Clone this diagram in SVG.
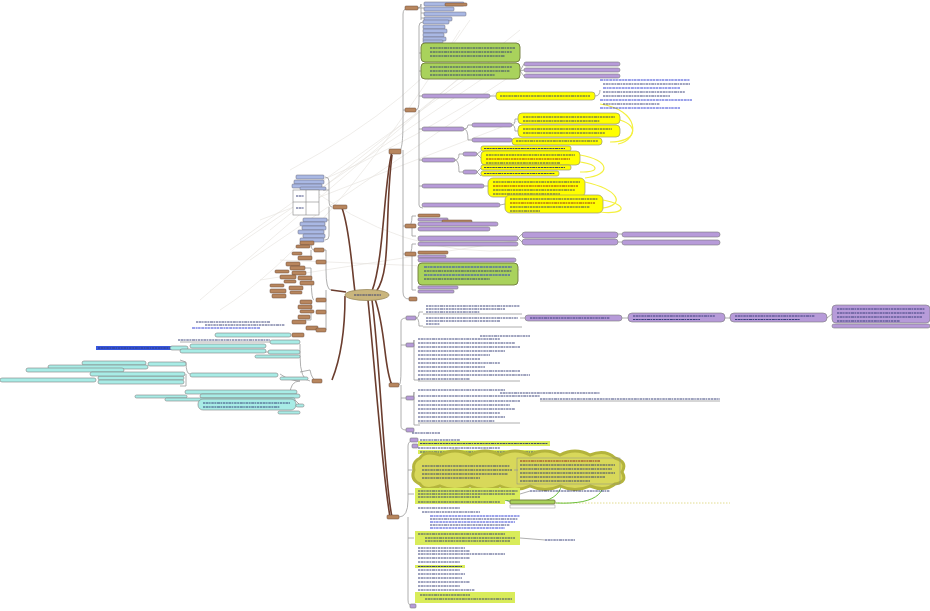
<svg xmlns="http://www.w3.org/2000/svg" width="930" height="611" viewBox="0 0 930 611">
<style>
.bg{fill:#fff}
.main{fill:none;stroke:#6b3d2e;stroke-width:1.6}
.sub{fill:none;stroke:#9a9a9a;stroke-width:0.8}
.rel{fill:none;stroke:#e4e0dc;stroke-width:0.6}
.t{stroke:#2a3470;stroke-width:.9;stroke-dasharray:2 .6 3 .5 1.5 .7 2.5 .6}
.tr{stroke:#8a1a1a;stroke-width:.9;stroke-dasharray:2 .6 3 .5 1.5 .7}
.tb{stroke:#2030d0;stroke-width:.9;stroke-dasharray:3 .6 2 .5 2.5 .7}
.tag{fill:#a9b8e4;stroke:#6a6a7a;stroke-width:.5}
.brn{fill:#b8865e;stroke:#6a4a3a;stroke-width:.5}
.pur{fill:#b79bd9;stroke:#7a7a7a;stroke-width:.6}
.yel{fill:#ffff00;stroke:#9a9a70;stroke-width:.7}
.grn{fill:#a9d25c;stroke:#6f7a3a;stroke-width:.9}
.lim{fill:#d9ec5a;stroke:none}
.cya{fill:#a8ece6;stroke:#808080;stroke-width:.6}
.wht{fill:#fff;stroke:#999;stroke-width:.5}
.yc{fill:none;stroke:#f4f040;stroke-width:1.2}
.gc{fill:none;stroke:#6cbf3c;stroke-width:1}
</style>
<rect class="bg" x="0" y="0" width="930" height="611"/>

<g id="relations">
<path class="rel" d="M240,240 L520,40"/><path class="rel" d="M230,250 L510,60"/><path class="rel" d="M250,260 L500,90"/>
<path class="rel" d="M260,220 L520,120"/><path class="rel" d="M270,230 L520,30"/><path class="rel" d="M200,300 L480,60"/>
<path class="rel" d="M280,260 L520,270"/><path class="rel" d="M260,280 L520,240"/><path class="rel" d="M300,190 Q420,140 520,70"/>
<path class="rel" d="M300,180 Q400,260 520,250"/><path class="rel" d="M220,310 Q330,240 460,30"/><path class="rel" d="M290,170 Q420,100 470,20"/>
</g>

<g id="connectors">
<path class="main" d="M372,291 C384,260 384,180 392,152"/>
<path class="main" d="M376,292 C392,270 384,220 392,155"/>
<path class="main" d="M375,299 C386,330 384,370 392,385"/>
<path class="main" d="M372,300 C380,360 384,480 392,517"/>
<path class="main" d="M368,300 C376,380 382,470 390,517"/>
<path class="main" d="M355,292 C352,270 350,230 342,208"/>
<path class="main" d="M346,292 L331,290"/>
<path class="main" d="M345,296 C345,330 340,360 332,380"/>
<path class="sub" d="M399,152 C402,150 403,140 403,120 L403,14 Q403,8 409,8"/>
<path class="sub" d="M403,150 L403,292 Q403,299 409,299"/>
<path class="sub" d="M403,110 L408,110"/><path class="sub" d="M403,226 L408,226"/><path class="sub" d="M403,254 L408,254"/>
<path class="sub" d="M418,8 Q421,8 421,4 L421,20"/><path class="sub" d="M418,8 L424,8"/><path class="sub" d="M421,13 L424,13"/><path class="sub" d="M421,18 L424,18"/>
<path class="sub" d="M416,110 Q419,110 419,100 L419,26 Q419,22 423,22"/><path class="sub" d="M419,110 L419,205 Q419,208 423,208"/>
<path class="sub" d="M419,53 L421,53"/><path class="sub" d="M419,71 L421,71"/><path class="sub" d="M419,96 L423,96"/><path class="sub" d="M419,129 L423,129"/><path class="sub" d="M419,160 L423,160"/><path class="sub" d="M419,186 L423,186"/>
<path class="sub" d="M490,96 L496,96"/><path class="sub" d="M595,96 Q600,96 600,90"/>
<path class="sub" d="M464,129 Q468,129 468,125 L472,125"/><path class="sub" d="M464,129 Q468,129 468,140 L472,140"/>
<path class="sub" d="M512,125 Q515,125 515,119 L518,119"/><path class="sub" d="M512,125 Q515,125 515,131 L518,131"/><path class="sub" d="M512,140 L518,141"/>
<path class="sub" d="M455,160 Q459,160 459,154 L463,154"/><path class="sub" d="M455,160 Q459,160 459,172 L463,172"/>
<path class="sub" d="M477,154 L481,151"/><path class="sub" d="M477,154 L481,158"/><path class="sub" d="M477,172 L481,168"/><path class="sub" d="M477,172 L481,176"/>
<path class="sub" d="M484,186 L488,186"/><path class="sub" d="M500,205 L505,204"/>
<path class="sub" d="M408,226 Q412,226 412,216 L416,216"/><path class="sub" d="M412,226 L412,236 L416,236"/>
<path class="sub" d="M408,254 Q412,254 412,244 L416,244"/><path class="sub" d="M412,254 L412,290 L416,290"/>
<path class="sub" d="M518,238 L522,234"/><path class="sub" d="M518,238 L522,242"/><path class="sub" d="M618,234 L622,234"/><path class="sub" d="M618,242 L622,242"/>
<path class="sub" d="M520,71 L524,64"/><path class="sub" d="M520,71 L524,70"/><path class="sub" d="M520,71 L524,76"/>
<path class="sub" d="M399,385 Q401,385 401,370 L401,322 Q401,318 406,318"/><path class="sub" d="M401,385 L401,426 Q401,430 406,430"/>
<path class="sub" d="M401,345 L406,345"/><path class="sub" d="M401,398 L406,398"/>
<path class="sub" d="M416,318 Q419,318 419,312 L423,312"/><path class="sub" d="M416,318 Q419,318 419,326 L423,326"/>
<path class="sub" d="M520,318 L525,318"/><path class="sub" d="M622,318 L628,318"/><path class="sub" d="M725,318 L730,318"/><path class="sub" d="M827,318 L832,314"/>
<path class="sub" d="M412,345 Q414,345 414,340 L414,380 L420,380"/><path class="sub" d="M412,398 Q414,398 414,392 L414,425 L420,425"/>
<path class="sub" d="M399,517 Q408,517 408,500 L408,446 Q408,441 413,441"/><path class="sub" d="M408,517 L408,600 Q408,606 413,606"/>
<path class="sub" d="M408,470 L413,470"/><path class="sub" d="M408,494 L414,494"/><path class="sub" d="M408,538 L414,538"/>
<path class="sub" d="M520,494 L530,491"/><path class="sub" d="M505,500 L510,502"/><path class="sub" d="M520,538 L545,540"/>
<path d="M555,503 L730,503" fill="none" stroke="#e2dc90" stroke-width="1" stroke-dasharray="1.5 1.5"/>
<path class="sub" d="M332,207 Q329,207 329,200 L329,181 Q329,177 325,177"/><path class="sub" d="M329,207 L329,236 Q329,240 325,240"/>
<path class="sub" d="M329,190 L323,190"/><path class="sub" d="M329,220 L325,220"/>
<path class="sub" d="M331,290 Q326,290 326,270 L326,250 L320,250"/><path class="sub" d="M326,290 L326,330 L320,330"/>
<path class="sub" d="M326,262 L316,262"/><path class="sub" d="M326,300 L316,300"/><path class="sub" d="M326,312 L316,312"/>
<path class="sub" d="M314,250 Q311,250 311,243 L305,243"/><path class="sub" d="M311,250 L311,258 L305,258"/>
<path class="sub" d="M314,300 Q311,300 311,268 L305,268"/><path class="sub" d="M311,300 L311,320 L305,320"/>
<path class="sub" d="M318,381 Q312,381 310,370 L300,372"/><path class="sub" d="M310,381 Q300,381 300,355 L300,344"/>
<path class="sub" d="M300,381 Q290,381 280,374"/><path class="sub" d="M300,381 Q290,381 290,395 L300,405"/>
<path class="sub" d="M190,374 Q186,374 186,362 L180,360"/><path class="sub" d="M186,374 L186,386 L180,386"/>
<path class="sub" d="M270,342 L180,342"/><path class="sub" d="M270,352 L265,352"/>
<path class="yc" d="M600,104 C640,110 640,140 618,144"/><path class="yc" d="M620,120 C640,126 636,142 610,142"/>
<path class="yc" d="M580,155 C610,160 612,175 585,178"/><path class="yc" d="M580,162 C600,165 600,172 580,172"/>
<path class="yc" d="M585,182 C620,190 625,205 603,208"/><path class="yc" d="M603,200 C630,205 625,215 600,212"/>
<path class="gc" d="M520,462 C560,450 610,455 610,470 C610,485 570,488 555,480"/><path class="gc" d="M505,500 C540,508 570,500 560,470"/>
<path class="gc" d="M556,503 C600,505 610,490 600,470"/>
</g>

<g id="centre">
<ellipse cx="367" cy="295" rx="22" ry="5.5" fill="#c9b57c" stroke="#9a8a60" stroke-width=".8"/>
<line class="t" x1="354" y1="295" x2="381" y2="295"/>
</g>

<g id="branch-a">
<rect class="brn" x="389" y="149" width="12" height="5" rx="1"/>
<rect class="brn" x="405" y="6" width="13" height="4" rx="1"/>
<rect class="tag" x="424" y="2" width="40" height="4" rx="1"/><rect class="brn" x="445" y="3" width="22" height="3" rx="1"/>
<rect class="tag" x="424" y="7" width="30" height="4" rx="1"/><rect class="tag" x="424" y="12" width="42" height="4" rx="1"/><rect class="tag" x="424" y="17" width="28" height="4" rx="1"/>
<rect class="brn" x="405" y="108" width="11" height="4" rx="1"/>
<rect class="tag" x="423" y="20" width="26" height="4" rx="1"/><rect class="tag" x="423" y="25" width="22" height="4" rx="1"/><rect class="tag" x="423" y="29" width="24" height="4" rx="1"/>
<rect class="tag" x="423" y="33" width="21" height="4" rx="1"/><rect class="tag" x="423" y="37" width="23" height="4" rx="1"/><rect class="tag" x="423" y="40" width="20" height="3" rx="1"/>
<rect class="grn" x="421" y="43" width="99" height="19" rx="4"/>
<line class="t" x1="430" y1="48" x2="515" y2="48"/><line class="t" x1="430" y1="52" x2="512" y2="52"/><line class="t" x1="430" y1="56" x2="505" y2="56"/>
<rect class="grn" x="421" y="63" width="99" height="16" rx="4"/>
<line class="t" x1="430" y1="67" x2="512" y2="67"/><line class="t" x1="430" y1="71" x2="510" y2="71"/><line class="t" x1="430" y1="75" x2="495" y2="75"/>
<rect class="pur" x="524" y="62" width="96" height="4" rx="2"/><rect class="pur" x="524" y="68" width="96" height="4" rx="2"/><rect class="pur" x="524" y="74" width="96" height="4" rx="2"/>
<rect class="pur" x="422" y="94" width="68" height="4" rx="2"/>
<rect class="yel" x="496" y="92" width="99" height="8" rx="3"/><line class="t" x1="500" y1="96" x2="590" y2="96"/>
<line class="tb" x1="600" y1="80" x2="690" y2="80"/><line class="t" x1="603" y1="84" x2="690" y2="84"/><line class="tb" x1="603" y1="88" x2="680" y2="88"/>
<line class="t" x1="603" y1="92" x2="685" y2="92"/><line class="t" x1="603" y1="96" x2="670" y2="96"/><line class="tb" x1="600" y1="100" x2="692" y2="100"/>
<line class="t" x1="603" y1="104" x2="660" y2="104"/><line class="tb" x1="600" y1="108" x2="680" y2="108"/>
<rect class="pur" x="422" y="127" width="42" height="4" rx="2"/>
<rect class="pur" x="472" y="123" width="40" height="4" rx="2"/><rect class="pur" x="472" y="138" width="40" height="4" rx="2"/>
<rect class="yel" x="518" y="113" width="102" height="11" rx="4"/><line class="t" x1="523" y1="117" x2="615" y2="117"/><line class="t" x1="523" y1="121" x2="600" y2="121"/>
<rect class="yel" x="518" y="125" width="102" height="12" rx="4"/><line class="t" x1="523" y1="129" x2="612" y2="129"/><line class="t" x1="523" y1="133" x2="605" y2="133"/>
<rect class="yel" x="512" y="138" width="90" height="7" rx="3"/><line class="t" x1="516" y1="141" x2="598" y2="141"/>
<rect class="pur" x="422" y="158" width="33" height="4" rx="2"/>
<rect class="pur" x="463" y="152" width="14" height="4" rx="2"/><rect class="pur" x="463" y="170" width="14" height="4" rx="2"/>
<rect class="yel" x="481" y="146" width="90" height="5" rx="2"/><line class="t" x1="484" y1="148.5" x2="565" y2="148.5"/>
<rect class="yel" x="481" y="151" width="99" height="14" rx="4"/><line class="t" x1="486" y1="155" x2="575" y2="155"/><line class="tr" x1="486" y1="159" x2="570" y2="159"/><line class="t" x1="486" y1="163" x2="560" y2="163"/>
<rect class="yel" x="481" y="165" width="90" height="5" rx="2"/><line class="t" x1="484" y1="167.5" x2="565" y2="167.5"/>
<rect class="yel" x="481" y="171" width="78" height="5" rx="2"/><line class="t" x1="484" y1="173.5" x2="555" y2="173.5"/>
<rect class="pur" x="422" y="184" width="62" height="4" rx="2"/>
<rect class="yel" x="488" y="178" width="97" height="19" rx="5"/><line class="t" x1="493" y1="182" x2="580" y2="182"/><line class="tr" x1="493" y1="186" x2="578" y2="186"/><line class="t" x1="493" y1="190" x2="575" y2="190"/><line class="t" x1="493" y1="194" x2="560" y2="194"/>
<rect class="pur" x="422" y="203" width="78" height="4" rx="2"/>
<rect class="yel" x="505" y="195" width="98" height="18" rx="5"/><line class="t" x1="510" y1="199" x2="598" y2="199"/><line class="tr" x1="510" y1="203" x2="595" y2="203"/><line class="t" x1="510" y1="207" x2="590" y2="207"/><line class="t" x1="510" y1="211" x2="540" y2="211"/>
<rect class="brn" x="405" y="224" width="11" height="4" rx="1"/>
<rect class="brn" x="418" y="214" width="22" height="3" rx="1"/><rect class="pur" x="418" y="218" width="30" height="3" rx="1"/><rect class="brn" x="442" y="220" width="30" height="3" rx="1"/>
<rect class="pur" x="418" y="222" width="80" height="4" rx="2"/><rect class="pur" x="418" y="227" width="72" height="4" rx="2"/>
<rect class="pur" x="418" y="236" width="100" height="5" rx="2"/><rect class="pur" x="418" y="242" width="100" height="4" rx="2"/>
<rect class="pur" x="522" y="232" width="96" height="6" rx="3"/><rect class="pur" x="522" y="239" width="96" height="6" rx="3"/>
<rect class="pur" x="622" y="232" width="98" height="5" rx="2.5"/><rect class="pur" x="622" y="240" width="98" height="5" rx="2.5"/>
<rect class="brn" x="405" y="252" width="11" height="4" rx="1"/>
<rect class="brn" x="418" y="251" width="30" height="3" rx="1"/><rect class="pur" x="418" y="255" width="28" height="3" rx="1"/>
<rect class="pur" x="418" y="258" width="98" height="4" rx="2"/>
<rect class="grn" x="418" y="263" width="100" height="22" rx="4"/>
<line class="tb" x1="424" y1="267" x2="512" y2="267"/><line class="t" x1="424" y1="271" x2="512" y2="271"/><line class="tb" x1="424" y1="275" x2="510" y2="275"/><line class="t" x1="424" y1="279" x2="490" y2="279"/>
<rect class="pur" x="418" y="286" width="40" height="3" rx="1"/><rect class="pur" x="418" y="290" width="36" height="3" rx="1"/>
<rect class="brn" x="409" y="297" width="8" height="4" rx="1"/>
</g>

<g id="branch-b">
<rect class="brn" x="389" y="383" width="10" height="4" rx="1"/>
<rect class="pur" x="406" y="316" width="10" height="4" rx="1"/>
<line class="t" x1="426" y1="306" x2="520" y2="306"/><line class="t" x1="426" y1="309" x2="505" y2="309"/><line class="t" x1="426" y1="312" x2="480" y2="312"/>
<line class="t" x1="426" y1="318" x2="518" y2="318"/><line class="t" x1="426" y1="321" x2="500" y2="321"/><line class="t" x1="426" y1="324" x2="440" y2="324"/>
<path class="sub" d="M423,314 L522,314 M423,327 L522,327"/>
<rect class="pur" x="525" y="315" width="97" height="6" rx="3"/><line class="t" x1="530" y1="318" x2="610" y2="318"/>
<rect class="pur" x="628" y="313" width="97" height="9" rx="4"/><line class="t" x1="633" y1="316" x2="715" y2="316"/><line class="t" x1="633" y1="319.5" x2="700" y2="319.5"/>
<rect class="pur" x="730" y="313" width="97" height="9" rx="4"/><line class="t" x1="735" y1="316" x2="815" y2="316"/><line class="t" x1="735" y1="319.5" x2="800" y2="319.5"/>
<rect class="pur" x="832" y="305" width="98" height="18" rx="4"/><line class="t" x1="837" y1="309" x2="925" y2="309"/><line class="t" x1="837" y1="313" x2="925" y2="313"/><line class="t" x1="837" y1="317" x2="922" y2="317"/><line class="t" x1="837" y1="321" x2="900" y2="321"/>
<rect class="pur" x="832" y="324" width="98" height="4" rx="2"/>
<rect class="pur" x="406" y="343" width="8" height="4" rx="1"/>
<line class="t" x1="418" y1="339" x2="500" y2="339"/><line class="t" x1="480" y1="336" x2="530" y2="336"/>
<line class="t" x1="418" y1="343" x2="515" y2="343"/><line class="t" x1="418" y1="347" x2="520" y2="347"/><line class="t" x1="418" y1="351" x2="505" y2="351"/>
<line class="t" x1="418" y1="355" x2="490" y2="355"/><line class="t" x1="418" y1="359" x2="480" y2="359"/><line class="t" x1="418" y1="363" x2="500" y2="363"/>
<line class="t" x1="418" y1="367" x2="485" y2="367"/><line class="t" x1="418" y1="371" x2="520" y2="371"/><line class="t" x1="418" y1="375" x2="530" y2="375"/>
<line class="t" x1="418" y1="379" x2="470" y2="379"/><path class="sub" d="M418,381 L520,381"/>
<rect class="pur" x="406" y="396" width="8" height="4" rx="1"/>
<line class="t" x1="418" y1="390" x2="505" y2="390"/><line class="t" x1="500" y1="393" x2="600" y2="393"/>
<line class="t" x1="418" y1="396" x2="540" y2="396"/><line class="t" x1="540" y1="399" x2="720" y2="399"/><path class="sub" d="M540,401 L720,401"/>
<line class="t" x1="418" y1="401" x2="520" y2="401"/><line class="t" x1="418" y1="405" x2="510" y2="405"/><line class="t" x1="418" y1="409" x2="515" y2="409"/>
<line class="t" x1="418" y1="413" x2="500" y2="413"/><line class="t" x1="418" y1="417" x2="505" y2="417"/><line class="t" x1="418" y1="421" x2="495" y2="421"/>
<path class="sub" d="M418,423 L520,423"/>
<rect class="pur" x="406" y="428" width="8" height="4" rx="1"/>
<line class="t" x1="412" y1="433" x2="440" y2="433"/>
</g>

<g id="branch-c">
<rect class="brn" x="387" y="515" width="12" height="4" rx="1"/>
<rect class="pur" x="410" y="438" width="8" height="4" rx="1"/><line class="t" x1="420" y1="440" x2="460" y2="440"/>
<rect class="pur" x="412" y="444" width="6" height="4" rx="1"/>
<rect class="lim" x="418" y="441" width="132" height="5"/><line class="t" x1="420" y1="443.5" x2="548" y2="443.5"/>
<line class="t" x1="418" y1="448" x2="500" y2="448"/><rect class="lim" x="418" y="450" width="130" height="4"/><line class="t" x1="420" y1="452" x2="545" y2="452"/>
<path d="M414,470 Q412,462 420,458 Q425,450 440,455 Q455,447 470,455 Q485,447 500,455 Q515,447 530,455 Q545,447 560,455 Q575,447 590,455 Q605,449 615,458 Q628,462 622,472 Q628,482 615,484 Q605,492 590,486 Q575,493 560,486 Q545,493 530,486 Q515,493 500,486 Q485,493 470,486 Q455,493 440,486 Q425,492 420,484 Q410,480 414,470 Z" fill="#d8d85a" stroke="#b4b43c" stroke-width="3"/>
<line class="t" x1="422" y1="466" x2="510" y2="466"/><line class="t" x1="422" y1="470" x2="512" y2="470"/><line class="t" x1="422" y1="474" x2="508" y2="474"/><line class="t" x1="422" y1="478" x2="480" y2="478"/>
<path class="sub" d="M514,470 L518,470"/>
<rect x="517" y="458" width="103" height="26" fill="none" stroke="#8a8a8a" stroke-width=".5"/>
<line class="tr" x1="520" y1="461" x2="600" y2="461"/><line class="t" x1="520" y1="465" x2="615" y2="465"/><line class="t" x1="520" y1="469" x2="612" y2="469"/>
<line class="t" x1="520" y1="473" x2="615" y2="473"/><line class="t" x1="520" y1="477" x2="605" y2="477"/><line class="t" x1="520" y1="481" x2="590" y2="481"/>
<rect class="lim" x="415" y="488" width="105" height="12"/>
<line class="t" x1="418" y1="491" x2="518" y2="491"/><line class="t" x1="418" y1="494" x2="515" y2="494"/><line class="t" x1="418" y1="497" x2="480" y2="497"/>
<line class="t" x1="530" y1="491" x2="610" y2="491"/>
<rect class="lim" x="415" y="500" width="90" height="4"/><line class="t" x1="418" y1="502" x2="500" y2="502"/>
<rect class="grn" x="510" y="500" width="45" height="4" rx="1"/><rect class="wht" x="510" y="505" width="45" height="3"/>
<line class="t" x1="418" y1="508" x2="460" y2="508"/><line class="t" x1="422" y1="512" x2="480" y2="512"/>
<line class="tb" x1="430" y1="516" x2="520" y2="516"/><line class="t" x1="430" y1="519" x2="518" y2="519"/><line class="tb" x1="430" y1="522" x2="515" y2="522"/>
<line class="t" x1="430" y1="525" x2="510" y2="525"/><line class="tb" x1="430" y1="528" x2="505" y2="528"/>
<rect class="lim" x="415" y="531" width="105" height="14"/>
<line class="t" x1="418" y1="534" x2="505" y2="534"/><line class="t" x1="425" y1="538" x2="515" y2="538"/><line class="t" x1="425" y1="541" x2="510" y2="541"/>
<line class="t" x1="545" y1="540" x2="575" y2="540"/>
<line class="t" x1="418" y1="548" x2="465" y2="548"/><line class="t" x1="418" y1="551" x2="470" y2="551"/><line class="t" x1="418" y1="554" x2="505" y2="554"/>
<line class="t" x1="418" y1="558" x2="470" y2="558"/><line class="t" x1="418" y1="562" x2="460" y2="562"/>
<rect class="lim" x="415" y="565" width="50" height="3"/><line class="t" x1="418" y1="566.5" x2="462" y2="566.5"/>
<line class="t" x1="418" y1="570" x2="460" y2="570"/><line class="t" x1="418" y1="574" x2="465" y2="574"/><line class="t" x1="418" y1="578" x2="462" y2="578"/>
<line class="t" x1="418" y1="582" x2="470" y2="582"/><line class="t" x1="418" y1="586" x2="460" y2="586"/><line class="t" x1="418" y1="590" x2="475" y2="590"/>
<rect class="lim" x="415" y="592" width="100" height="11"/><line class="t" x1="420" y1="595" x2="470" y2="595"/><line class="t" x1="425" y1="599" x2="512" y2="599"/>
<rect class="pur" x="410" y="604" width="6" height="4" rx="1"/>
</g>

<g id="branch-left">
<rect class="brn" x="333" y="205" width="14" height="4" rx="1"/>
<rect class="tag" x="296" y="175" width="28" height="4" rx="1"/><rect class="tag" x="294" y="180" width="30" height="4" rx="1"/>
<rect class="tag" x="292" y="184" width="30" height="4" rx="1"/><rect class="tag" x="300" y="187" width="26" height="3" rx="1"/>
<rect x="293" y="190" width="26" height="25" fill="#fff" stroke="#888" stroke-width=".6"/>
<path d="M306,190 L306,215 M293,202 L319,202" stroke="#888" stroke-width=".6"/>
<line class="t" x1="296" y1="196" x2="304" y2="196"/><line class="t" x1="296" y1="208" x2="304" y2="208"/>
<rect class="tag" x="303" y="218" width="24" height="4" rx="1"/><rect class="tag" x="300" y="222" width="25" height="4" rx="1"/>
<rect class="tag" x="302" y="226" width="24" height="4" rx="1"/><rect class="tag" x="298" y="230" width="26" height="4" rx="1"/>
<rect class="tag" x="303" y="234" width="22" height="4" rx="1"/><rect class="tag" x="300" y="238" width="24" height="4" rx="1"/>
<rect class="brn" x="314" y="248" width="10" height="4" rx="1"/>
<rect class="brn" x="300" y="241" width="14" height="4" rx="1"/><rect class="brn" x="296" y="245" width="14" height="3" rx="1"/>
<rect class="brn" x="298" y="256" width="14" height="4" rx="1"/><rect class="brn" x="292" y="252" width="10" height="3" rx="1"/>
<rect class="brn" x="316" y="260" width="10" height="4" rx="1"/>
<rect class="brn" x="286" y="262" width="14" height="4" rx="1"/><rect class="brn" x="290" y="266" width="15" height="4" rx="1"/>
<rect class="brn" x="275" y="270" width="14" height="3" rx="1"/><rect class="brn" x="292" y="271" width="14" height="4" rx="1"/>
<rect class="brn" x="280" y="275" width="16" height="4" rx="1"/><rect class="brn" x="298" y="276" width="14" height="4" rx="1"/>
<rect class="brn" x="284" y="280" width="12" height="3" rx="1"/><rect class="brn" x="300" y="281" width="14" height="4" rx="1"/>
<rect class="brn" x="270" y="284" width="14" height="3" rx="1"/><rect class="brn" x="289" y="286" width="14" height="4" rx="1"/>
<rect class="brn" x="270" y="289" width="16" height="4" rx="1"/><rect class="brn" x="290" y="291" width="12" height="3" rx="1"/>
<rect class="brn" x="272" y="294" width="14" height="4" rx="1"/><rect class="brn" x="316" y="298" width="10" height="4" rx="1"/>
<rect class="brn" x="300" y="300" width="12" height="4" rx="1"/><rect class="brn" x="298" y="305" width="14" height="4" rx="1"/>
<rect class="brn" x="316" y="310" width="10" height="4" rx="1"/><rect class="brn" x="300" y="310" width="14" height="3" rx="1"/>
<rect class="brn" x="298" y="315" width="12" height="4" rx="1"/><rect class="brn" x="292" y="320" width="14" height="4" rx="1"/>
<rect class="brn" x="306" y="326" width="12" height="4" rx="1"/><rect class="brn" x="316" y="328" width="10" height="4" rx="1"/>
<line class="t" x1="196" y1="322" x2="270" y2="322"/><line class="t" x1="205" y1="325" x2="285" y2="325"/><line class="tb" x1="192" y1="328" x2="260" y2="328"/>
<rect class="cya" x="215" y="333" width="76" height="4" rx="2"/><rect class="brn" x="292" y="333" width="12" height="4" rx="1"/>
<rect class="brn" x="312" y="379" width="10" height="4" rx="1"/>
</g>

<g id="branch-left-cyan">
<line class="t" x1="178" y1="340" x2="270" y2="340"/><rect class="cya" x="270" y="340" width="30" height="4" rx="2"/>
<rect x="96" y="346" width="82" height="4" fill="#3858e0"/><line class="t" x1="98" y1="348" x2="176" y2="348"/>
<rect class="cya" x="170" y="346" width="18" height="4" rx="2"/><rect class="cya" x="190" y="344" width="76" height="4" rx="2"/>
<rect class="cya" x="180" y="349" width="86" height="4" rx="2"/><rect class="cya" x="268" y="350" width="32" height="4" rx="2"/>
<rect class="cya" x="255" y="355" width="45" height="3" rx="1.5"/>
<rect class="cya" x="82" y="361" width="64" height="4" rx="2"/><rect class="cya" x="148" y="362" width="38" height="4" rx="2"/>
<rect class="cya" x="48" y="365" width="100" height="4" rx="2"/><rect class="cya" x="26" y="368" width="98" height="4" rx="2"/>
<rect class="cya" x="0" y="378" width="96" height="4" rx="2"/><rect class="cya" x="98" y="376" width="86" height="4" rx="2"/>
<rect class="cya" x="90" y="372" width="95" height="4" rx="2"/><rect class="cya" x="98" y="380" width="86" height="4" rx="2"/>
<rect class="cya" x="190" y="373" width="88" height="4" rx="2"/><rect class="cya" x="280" y="377" width="28" height="3" rx="1.5"/>
<rect class="cya" x="135" y="395" width="52" height="3" rx="1.5"/><rect class="cya" x="185" y="390" width="112" height="4" rx="2"/>
<rect class="cya" x="200" y="394" width="100" height="4" rx="2"/><rect class="cya" x="165" y="398" width="130" height="3" rx="1.5"/>
<rect class="cya" x="198" y="399" width="98" height="11" rx="5"/>
<line class="t" x1="203" y1="403" x2="290" y2="403"/><line class="t" x1="203" y1="407" x2="280" y2="407"/>
<rect class="cya" x="296" y="404" width="8" height="3" rx="1.5"/><rect class="cya" x="278" y="411" width="22" height="3" rx="1.5"/>
</g>
</svg>
